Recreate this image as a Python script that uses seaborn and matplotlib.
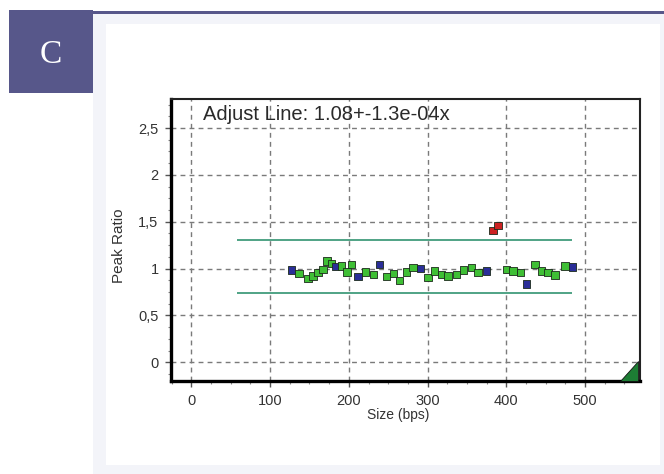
import numpy as np
import pandas as pd
import matplotlib
matplotlib.use("Agg")
import matplotlib.pyplot as plt
from matplotlib.patches import Rectangle, Polygon
from matplotlib.ticker import MultipleLocator, FuncFormatter
import seaborn as sns

# Dados
tamanho = [126.8, 136.5, 148.0, 154.3, 160.7, 167.0, 172.1, 177.7, 183.2, 190.5,
           197.6, 203.2, 211.6, 221.4, 231.6, 239.2, 247.7, 257.0, 264.6, 273.2,
           281.6, 291.0, 300.6, 309.2, 317.7, 326.1, 336.8, 346.1, 355.9, 364.3,
           374.9, 383.3, 389.7, 400.4, 408.8, 418.2, 425.8, 436.4, 444.9, 453.3,
           461.8, 474.6, 484.4]
razao = [0.985, 0.947, 0.894, 0.920, 0.958, 0.993, 1.080, 1.053, 1.020, 1.027,
         0.964, 1.045, 0.915, 0.964, 0.940, 1.045, 0.915, 0.950, 0.870, 0.964,
         1.010, 1.000, 0.905, 0.975, 0.940, 0.920, 0.940, 0.985, 1.010, 0.958,
         0.975, 1.408, 1.458, 0.993, 0.975, 0.958, 0.834, 1.045, 0.975, 0.958,
         0.930, 1.027, 1.017]
tipo = ["ref", "ok", "ok", "ok", "ok", "ok", "ok", "ok", "ref", "ok",
        "ok", "ok", "ref", "ok", "ok", "ref", "ok", "ok", "ok", "ok",
        "ok", "ref", "ok", "ok", "ok", "ok", "ok", "ok", "ok", "ok",
        "ref", "fora", "fora", "ok", "ok", "ok", "ref", "ok", "ok", "ok",
        "ok", "ok", "ref"]

limite_x = [58, 484]
limite_sup = 1.30
limite_inf = 0.74
texto_ajuste = "Adjust Line: 1.08+-1.3e-04x"

df = pd.DataFrame({"Size (bps)": tamanho, "Peak Ratio": razao, "tipo": tipo})
cores = {"ok": "#3fbf35", "ref": "#2a2e98", "fora": "#cc2222"}

W, H = 664, 474
fig = plt.figure(figsize=(W / 100, H / 100), dpi=100)
fig.patch.set_facecolor("white")

def ret(x0, y0, x1, y1, cor):
    # retângulo em pixels (origem no topo)
    fig.patches.append(Rectangle((x0 / W, 1 - y1 / H), (x1 - x0) / W, (y1 - y0) / H,
                                 transform=fig.transFigure, facecolor=cor,
                                 edgecolor="none", zorder=-5))

ret(93, 13, 664, 474, "#f3f4f9")
ret(93, 11, 664, 13.5, "#57578a")
ret(106, 24, 660, 465, "white")
ret(9, 10, 93, 93, "#57578a")
fig.text(51 / W, 1 - 55 / H, "C", color="white", fontsize=24,
         family="Liberation Serif", ha="center", va="center")

ax = fig.add_axes([171 / W, 1 - 381 / H, (640 - 171) / W, (381 - 99) / H])
ax.set_facecolor("white")

ax.grid(True, which="major", color="#7a7a7a", linestyle=(0, (3.5, 3)), linewidth=1.0, zorder=0)
ax.set_axisbelow(True)

ax.hlines([limite_sup, limite_inf], limite_x[0], limite_x[1], color="#4fa385", linewidth=1.4, zorder=2)

sns.scatterplot(data=df, x="Size (bps)", y="Peak Ratio", hue="tipo", palette=cores,
                marker="s", s=28, edgecolor="#1b2a1b", linewidth=0.6, legend=False,
                ax=ax, zorder=3)

ax.set_xlim(-26, 570)
ax.set_ylim(-0.20, 2.81)
ax.xaxis.set_major_locator(MultipleLocator(100))
ax.xaxis.set_minor_locator(MultipleLocator(25))
ax.yaxis.set_major_locator(MultipleLocator(0.5))
ax.yaxis.set_minor_locator(MultipleLocator(0.125))
ax.yaxis.set_major_formatter(FuncFormatter(lambda v, p: f"{v:g}".replace(".", ",")))

ax.tick_params(axis="both", which="major", length=4, width=1, color="#555555",
               labelsize=10.5, labelcolor="#333333", direction="out")
ax.tick_params(axis="both", which="minor", length=2, width=0.8, color="#888888", direction="out")
ax.tick_params(axis="x", which="major", pad=5.5)
ax.tick_params(axis="y", which="major", pad=5)
for lab in ax.get_xticklabels() + ax.get_yticklabels():
    lab.set_family("Liberation Sans")

ax.set_xlabel("Size (bps)", fontsize=10, family="Liberation Sans", color="#333333")
ax.set_ylabel("Peak Ratio", fontsize=11, family="Liberation Sans", color="#333333")
ax.xaxis.set_label_coords(0.484, -0.095)
ax.yaxis.set_label_coords(-0.097, 0.48)

for lado, lw, cor in [("left", 2.4, "black"), ("bottom", 2.4, "black"),
                      ("top", 1.5, "#222222"), ("right", 1.5, "#222222")]:
    ax.spines[lado].set_linewidth(lw)
    ax.spines[lado].set_color(cor)

ax.text(0.068, 0.978, texto_ajuste, transform=ax.transAxes, ha="left", va="top",
        fontsize=14.5, family="Liberation Sans", color="#2a2a2a")

ax.add_patch(Polygon([[0.958, 0.0], [0.996, 0.0], [0.996, 0.07]], closed=True,
                     transform=ax.transAxes, facecolor="#1d7d34", edgecolor="#111111",
                     linewidth=0.6, zorder=4, clip_on=False))

fig.savefig("out.png", dpi=100, facecolor=fig.get_facecolor())
